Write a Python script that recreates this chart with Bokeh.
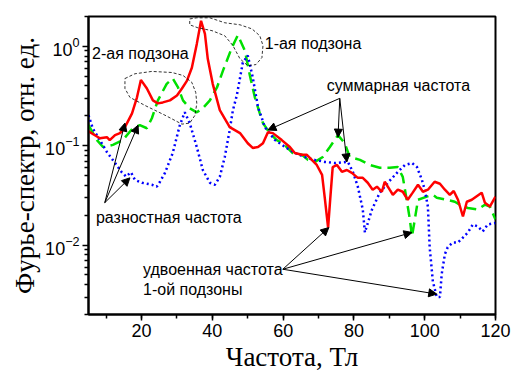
from bokeh.plotting import figure
from bokeh.models import (ColumnDataSource, Arrow, NormalHead, FixedTicker,
                          Range1d, SingleIntervalTicker)
from bokeh.core.properties import value
from bokeh.embed import file_html
from bokeh.resources import INLINE

# ---------------- data ----------------
red_x = [5.0, 8.2, 10.2, 11.0, 12.5, 13.9, 15.3, 17.3, 18.7, 19.8, 21.5, 23.2, 24.6, 26.0,
         28.0, 30.0, 31.4, 32.8, 34.2, 35.6, 36.8, 37.9, 38.7, 40.1, 42.1, 44.9, 47.8, 50.0,
         51.4, 52.9, 54.3, 55.7, 57.1, 59.6, 61.9, 63.3, 65.3, 66.7, 68.1, 69.5, 71.0, 71.8,
         72.7, 73.3, 74.0, 75.2, 76.6, 78.0, 79.4, 81.1, 82.5, 83.9, 85.3, 86.5, 87.9, 88.7,
         90.1, 91.0, 92.4, 93.8, 95.2, 96.6, 98.1, 99.5, 100.9, 102.8, 104.3, 105.7, 107.1,
         108.2, 109.4, 110.8, 111.9, 113.3, 116.1, 117.0, 118.4, 120.0]
red_y = [0.14, 0.119, 0.122, 0.114, 0.128, 0.134, 0.154, 0.212, 0.307, 0.46, 0.377, 0.286,
         0.267, 0.273, 0.286, 0.32, 0.377, 0.45, 0.61, 1.06, 1.81, 1.34, 0.75, 0.42, 0.228,
         0.154, 0.134, 0.106, 0.095, 0.097, 0.106, 0.137, 0.134, 0.114, 0.097, 0.0845, 0.081,
         0.081, 0.072, 0.064, 0.051, 0.029, 0.015, 0.029, 0.061, 0.064, 0.0546, 0.057, 0.0533,
         0.0475, 0.0475, 0.0424, 0.0361, 0.0387, 0.0344, 0.0434, 0.0361, 0.0321, 0.0361,
         0.0344, 0.0286, 0.0337, 0.0405, 0.0344, 0.0361, 0.0434, 0.0414, 0.0361, 0.0321,
         0.035, 0.0286, 0.0194, 0.0273, 0.0286, 0.0337, 0.0267, 0.0244, 0.0307]

green_x = [5.0, 7.4, 9.1, 11.9, 14.7, 17.5, 19.5, 21.5, 22.9, 24.6, 27.1, 28.8, 30.3, 31.7,
           33.6, 35.6, 37.3, 39.3, 41.3, 43.0, 45.5, 47.2, 49.2, 50.6, 52.0, 53.4, 54.3, 56.2,
           58.2, 59.9, 62.7, 65.3, 67.0, 69.0, 71.2, 73.2, 75.5, 77.4, 78.8, 81.7, 84.5, 87.3,
           90.1, 92.4, 93.8, 94.9, 95.8, 96.4, 97.2, 98.1, 100.6, 102.3, 103.4, 106.2, 108.5,
           109.9, 112.2, 115.0, 117.0, 118.4, 120.0]
green_y = [0.161, 0.114, 0.097, 0.102, 0.114, 0.150, 0.161, 0.150, 0.189, 0.286, 0.42, 0.475,
           0.386, 0.286, 0.238, 0.217, 0.238, 0.286, 0.386, 0.57, 0.97, 1.30, 0.905, 0.51,
           0.307, 0.212, 0.169, 0.134, 0.114, 0.106, 0.0845, 0.081, 0.072, 0.0687, 0.077,
           0.097, 0.128, 0.106, 0.077, 0.072, 0.064, 0.060, 0.060, 0.061, 0.0486, 0.0286,
           0.0181, 0.0122, 0.0181, 0.0286, 0.0307, 0.0321, 0.030, 0.0286, 0.0273, 0.0255,
           0.0236, 0.0228, 0.0255, 0.0244, 0.0181]

blue_x = [5.0, 6.2, 8.2, 10.2, 12.5, 14.4, 15.6, 17.0, 18.1, 20.1, 22.9, 24.3, 25.2, 26.6,
          28.8, 30.8, 32.2, 33.6, 35.6, 37.3, 39.3, 40.7, 42.1, 43.5, 44.9, 45.8, 46.9, 48.6,
          50.0, 51.4, 52.9, 54.0, 54.8, 57.7, 61.0, 63.3, 67.0, 69.0, 71.8, 74.6, 78.3, 79.7,
          81.1, 82.5, 83.1, 85.1, 87.3, 89.6, 92.4, 94.4, 96.4, 97.8, 99.2, 100.0, 100.9,
          101.4, 102.3, 103.4, 104.3, 104.8, 105.7, 106.5, 107.9, 109.4, 110.8, 112.2, 113.6,
          115.0, 116.4, 117.8, 120.0]
blue_y = [0.203, 0.150, 0.114, 0.0865, 0.067, 0.054, 0.049, 0.054, 0.0454, 0.0424, 0.0405,
          0.0387, 0.0434, 0.0533, 0.0845, 0.161, 0.217, 0.169, 0.097, 0.057, 0.0424, 0.0405,
          0.0486, 0.077, 0.144, 0.228, 0.32, 0.687, 0.81, 0.49, 0.244, 0.189, 0.154, 0.114,
          0.095, 0.0845, 0.075, 0.072, 0.0687, 0.067, 0.0687, 0.0546, 0.0387, 0.0228, 0.0134,
          0.0228, 0.0337, 0.0424, 0.0546, 0.064, 0.067, 0.061, 0.0454, 0.0361, 0.0244, 0.0095,
          0.0043, 0.0030, 0.0030, 0.0051, 0.0081, 0.0095, 0.0106, 0.0106, 0.0119, 0.0134,
          0.0161, 0.0154, 0.0137, 0.0161, 0.0167]

# dashed outlines around the subband peaks
blob1_x = [15.3, 18.1, 22.9, 28.6, 31.7, 34.2, 35.3, 35.6, 35.1, 33.6, 31.4, 26.6, 20.9, 16.7, 15.3, 15.3]
blob1_y = [0.475, 0.53, 0.56, 0.546, 0.51, 0.434, 0.344, 0.267, 0.203, 0.169, 0.165, 0.203, 0.255, 0.307, 0.377, 0.475]
blob2_x = [33.6, 35.6, 39.3, 43.5, 47.8, 51.2, 53.4, 54.3, 54.0, 52.3, 50.0, 47.8, 45.8, 43.5, 39.9, 35.9, 33.6, 33.6]
blob2_y = [1.89, 1.94, 1.94, 1.73, 1.65, 1.50, 1.28, 1.02, 0.77, 0.656, 0.64, 0.75, 1.02, 1.28, 1.44, 1.54, 1.65, 1.89]

# annotation texts
note_text = ["2-ая подзона", "1-ая подзона", "суммарная частота",
             "разностная частота", "удвоенная частота", "1-ой подзоны"]
note_x = [6.0, 54.8, 72.3, 7.1, 20.4, 20.4]
note_y = [0.85, 1.06, 0.40, 0.0188, 0.0057, 0.0036]

# arrows: start -> end
arrow_x0 = [9.6, 9.6, 9.6, 76.0, 76.0, 76.0, 59.9, 59.9, 59.9]
arrow_y0 = [0.0267, 0.0267, 0.0267, 0.30, 0.30, 0.30, 0.00571, 0.00571, 0.00571]
arrow_x1 = [15.3, 19.0, 16.7, 55.7, 75.5, 78.0, 72.9, 96.4, 103.4]
arrow_y1 = [0.169, 0.161, 0.0475, 0.144, 0.122, 0.0687, 0.0150, 0.0134, 0.00321]

x_major = 20
y_major_ticks = [0.01, 0.1, 1.0]
y_minor_ticks = [0.002, 0.003, 0.004, 0.005, 0.006, 0.007, 0.008, 0.009,
                 0.02, 0.03, 0.04, 0.05, 0.06, 0.07, 0.08, 0.09,
                 0.2, 0.3, 0.4, 0.5, 0.6, 0.7, 0.8, 0.9, 2.0]

# ---------------- figure ----------------
p = figure(width=515, height=374, x_range=Range1d(5, 120), y_range=Range1d(0.002, 2.0),
           y_axis_type="log", output_backend="svg", toolbar_location=None,
           min_border_left=88, min_border_right=20, min_border_top=16, min_border_bottom=59)
p.xgrid.visible = False
p.ygrid.visible = False
p.outline_line_color = "black"
p.outline_line_width = 2
p.outline_line_alpha = 1.0

p.line(green_x, green_y, line_color="#00e000", line_width=2.5, line_dash="11 6")
p.line(blue_x, blue_y, line_color="#0000ff", line_width=2.5, line_dash="2 3")
p.line(red_x, red_y, line_color="#ff0000", line_width=2.5)

p.line(blob1_x, blob1_y, line_color="black", line_width=0.8, line_dash="3 2")
p.line(blob2_x, blob2_y, line_color="black", line_width=0.8, line_dash="3 2")

arrows = ColumnDataSource(dict(x0=arrow_x0, y0=arrow_y0, x1=arrow_x1, y1=arrow_y1))
p.add_layout(Arrow(source=arrows, x_start="x0", y_start="y0", x_end="x1", y_end="y1",
                   line_color="black", line_width=1,
                   end=NormalHead(size=8, fill_color="black", line_color="black", line_width=1)))

notes = ColumnDataSource(dict(x=note_x, y=note_y, t=note_text))
p.text(x="x", y="y", text="t", source=notes, text_font=value("Liberation Sans"),
       text_font_size="16px", text_baseline="middle", text_align="left", text_color="black")

# axes
p.xaxis.ticker = SingleIntervalTicker(interval=x_major, num_minor_ticks=2)
p.yaxis.ticker = FixedTicker(ticks=y_major_ticks, minor_ticks=y_minor_ticks)
for ax in (p.xaxis[0], p.yaxis[0]):
    ax.axis_line_width = 2
    ax.major_tick_line_width = 1.5
    ax.minor_tick_line_width = 1.5
    ax.major_tick_in = 0
    ax.minor_tick_in = 0
    ax.major_tick_out = 6
    ax.minor_tick_out = 4
    ax.major_label_text_font = "Liberation Sans"
    ax.major_label_text_font_size = "18px"
    ax.major_label_text_color = "black"
    ax.axis_label_text_font = "Liberation Serif"
    ax.axis_label_text_font_size = "27px"
    ax.axis_label_text_font_style = "normal"
    ax.axis_label_text_color = "black"
    ax.major_label_standoff = 3
    ax.axis_label_standoff = 2
p.xaxis.axis_label = "Частота, Тл"
p.yaxis.axis_label = "Фурье-спектр, отн. ед."

open("out.html", "w").write(file_html(p, INLINE))
